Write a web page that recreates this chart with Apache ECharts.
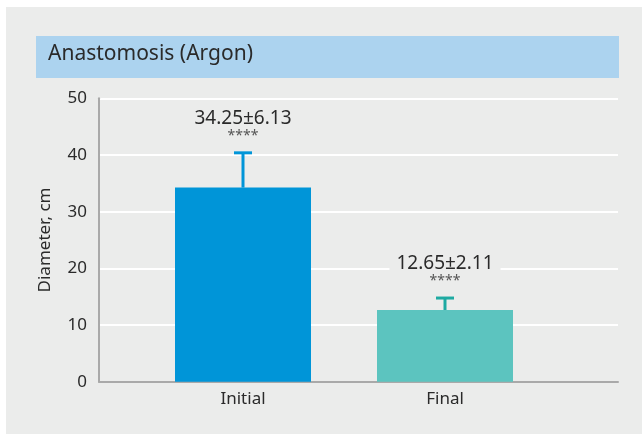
<!DOCTYPE html>
<html>
<head>
<meta charset="utf-8">
<script src="https://cdn.jsdelivr.net/npm/echarts@6/dist/echarts.min.js"></script>
<style>
  html, body { margin: 0; padding: 0; background: #ffffff; }
  #chart { width: 642px; height: 434px; }
</style>
</head>
<body>
<div id="chart"></div>
<script>
// Anastomosis diameter before and after argon treatment
const categories = ['Initial', 'Final'];
const means = [34.25, 12.65];
const sds = [6.13, 2.11];
const significance = ['****', '****'];
const barColors = ['#0095d8', '#5cc4bf'];
const whiskerColors = ['#0095d8', '#1eaaa2'];
const yTicks = { min: 0, max: 50, interval: 10 };

const FONT = '"Noto Sans", "Open Sans", sans-serif';
const PANEL = '#ebeceb';
const TEXT = '#2a2a2a';
const AXIS = '#a9a9a9';

const plotTop = 98.3;
const plotBottom = 434 - 381.7;

const chart = echarts.init(document.getElementById('chart'), null, { renderer: 'canvas' });

const errorData = categories.map((c, i) => [i, means[i], means[i] + sds[i]]);

chart.setOption({
  animation: false,
  backgroundColor: '#ffffff',
  graphic: [
    { type: 'rect', z: -10, shape: { x: 6, y: 7, width: 636, height: 427 }, style: { fill: PANEL } },
    { type: 'rect', z: -9, shape: { x: 36, y: 36, width: 583, height: 42 }, style: { fill: '#acd3ef' } },
    {
      type: 'text', left: 48, top: 44,
      style: { text: 'Anastomosis (Argon)', font: '21px ' + FONT, fill: TEXT }
    }
  ],
  grid: [
    { left: 99, right: 24, top: plotTop, bottom: plotBottom },
    { left: 142, width: 404, top: plotTop, bottom: plotBottom }
  ],
  xAxis: [
    {
      gridIndex: 0, type: 'value', min: 0, max: 1,
      axisLine: { show: true, lineStyle: { color: AXIS, width: 2 } },
      axisTick: { show: false }, axisLabel: { show: false }, splitLine: { show: false }
    },
    {
      gridIndex: 1, type: 'category', data: categories,
      axisLine: { show: false }, axisTick: { show: false },
      axisLabel: { color: TEXT, fontSize: 17, fontFamily: FONT, margin: 9 }
    }
  ],
  yAxis: [
    {
      gridIndex: 0, type: 'value', min: yTicks.min, max: yTicks.max, interval: yTicks.interval,
      name: 'Diameter, cm', nameLocation: 'middle', nameGap: 45,
      nameTextStyle: { color: TEXT, fontSize: 17, fontFamily: FONT },
      axisLine: { show: true, lineStyle: { color: AXIS, width: 2 } },
      axisTick: { show: false },
      axisLabel: { color: TEXT, fontSize: 17, fontFamily: FONT, margin: 12 },
      splitLine: { show: true, lineStyle: { color: '#ffffff', width: 2 } }
    },
    {
      gridIndex: 1, type: 'value', min: yTicks.min, max: yTicks.max, interval: yTicks.interval,
      show: false, splitLine: { show: false }
    }
  ],
  series: [
    {
      type: 'bar', xAxisIndex: 1, yAxisIndex: 1, barWidth: 136, z: 3,
      data: means.map((v, i) => ({ value: v, itemStyle: { color: barColors[i] } }))
    },
    {
      type: 'custom', xAxisIndex: 1, yAxisIndex: 1, z: 2,
      data: errorData,
      renderItem: function (params, api) {
        const i = api.value(0);
        const base = api.coord([i, api.value(1)]);
        const top = api.coord([i, api.value(2)]);
        const col = whiskerColors[params.dataIndex];
        return {
          type: 'group',
          children: [
            { type: 'line', shape: { x1: base[0], y1: base[1], x2: top[0], y2: top[1] }, style: { stroke: col, lineWidth: 3 } },
            { type: 'line', shape: { x1: top[0] - 9, y1: top[1], x2: top[0] + 9, y2: top[1] }, style: { stroke: col, lineWidth: 3 } }
          ]
        };
      }
    },
    {
      type: 'custom', xAxisIndex: 1, yAxisIndex: 1, z: 5,
      data: errorData,
      renderItem: function (params, api) {
        const i = api.value(0);
        const top = api.coord([i, api.value(2)]);
        const k = params.dataIndex;
        return {
          type: 'group',
          children: [
            {
              type: 'text', x: top[0], y: top[1] - 34,
              style: {
                text: means[k].toFixed(2) + '±' + sds[k].toFixed(2),
                font: '19px ' + FONT, fill: TEXT, align: 'center', verticalAlign: 'middle',
                backgroundColor: PANEL, padding: [0, 7]
              }
            },
            {
              type: 'text', x: top[0], y: top[1] - 17,
              style: {
                text: significance[k], font: '14px ' + FONT, fill: '#555555',
                align: 'center', verticalAlign: 'middle'
              }
            }
          ]
        };
      }
    }
  ]
});
</script>
</body>
</html>
